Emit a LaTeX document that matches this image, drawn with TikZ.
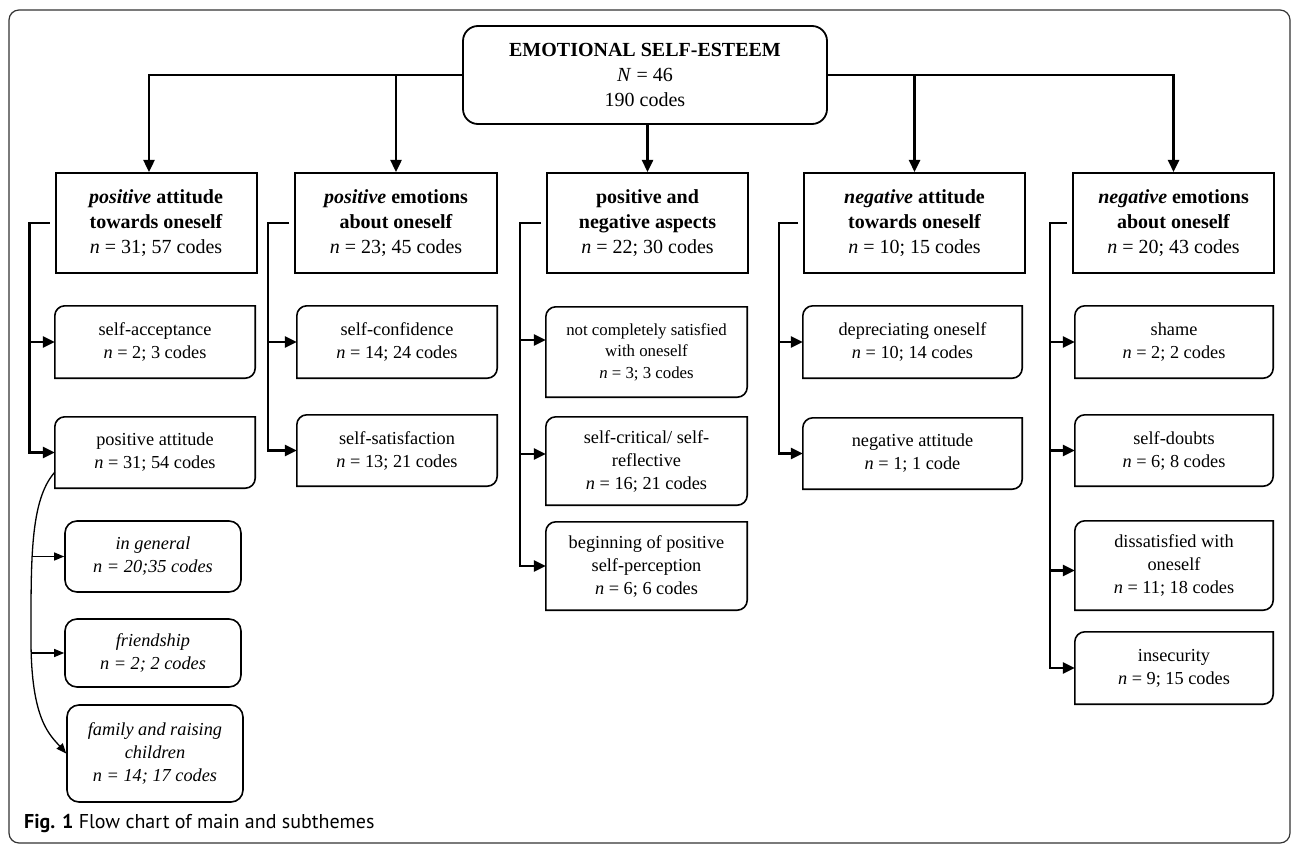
\documentclass[tikz,border=0pt]{standalone}
\usepackage{fontspec}
\setmainfont{Liberation Serif}
\newfontfamily\capfont{PT Sans}
\usetikzlibrary{arrows.meta}

\tikzset{
    root/.style={draw, line width=1.8pt, rounded corners=15pt, minimum width=364pt,
        minimum height=98pt, inner sep=0pt, align=center, font=\fontsize{20}{25}\selectfont},
    theme/.style={draw, line width=2pt, minimum width=201pt, minimum height=100pt,
        inner sep=0pt, align=center, font=\bfseries\fontsize{20}{25}\selectfont},
    subtheme/.style={minimum width=200pt, minimum height=72pt, inner sep=0pt,
        align=center, font=\fontsize{18.3}{23}\selectfont},
    facet/.style={subtheme, draw, line width=1.6pt, rounded corners=12pt,
        minimum width=176pt, font=\itshape\fontsize{18.3}{23}\selectfont},
    link/.style={line width=2.4pt, -{Triangle[length=12pt,width=11pt]}},
    thinlink/.style={line width=1.3pt, -{Triangle[length=10pt,width=8pt]}}
}

\begin{document}
\begin{tikzpicture}[x=1pt,y=-1pt]
    \useasboundingbox (0,0) rectangle (1292,845);
    % Outer frame
    \draw[black!80, line width=1.2pt, rounded corners=10pt] (9,10) rectangle (1290,843);

    % Main theme
    \node[root] (root) at (645,75)
        {\textbf{EMOTIONAL SELF-ESTEEM}\\\textit{N} = 46\\190 codes};

    % Themes
    \node[theme] (pat) at (156,223)
        {\textit{positive} attitude\\towards oneself\\{\mdseries\textit{n} = 31; 57 codes}};
    \node[theme, minimum width=202pt] (pem) at (396,223)
        {\textit{positive} emotions\\about oneself\\{\mdseries\textit{n} = 23; 45 codes}};
    \node[theme] (pna) at (647.5,223)
        {positive and\\negative aspects\\{\mdseries\textit{n} = 22; 30 codes}};
    \node[theme, minimum width=221pt] (nat) at (914.5,223)
        {\textit{negative} attitude\\towards oneself\\{\mdseries\textit{n} = 10; 15 codes}};
    \node[theme] (nem) at (1173.5,223)
        {\textit{negative} emotions\\about oneself\\{\mdseries\textit{n} = 20; 43 codes}};

    % Subthemes: positive attitude towards oneself
    \node[subtheme] (sa) at (155,342) {self-acceptance\\\textit{n} = 2; 3 codes};
    \node[subtheme, minimum height=71pt] (pa) at (155,452.5) {positive attitude\\\textit{n} = 31; 54 codes};
    \node[facet, minimum height=71pt] (ig) at (153,556.5) {in general\\n = 20;35 codes};
    \node[facet, minimum height=68pt] (fr) at (153,653) {friendship\\n = 2; 2 codes};
    \node[facet, minimum height=97pt] (fam) at (155,753.5) {family and raising\\children\\n = 14; 17 codes};

    % Subthemes: positive emotions about oneself
    \node[subtheme] (sc) at (397,342) {self-confidence\\\textit{n} = 14; 24 codes};
    \node[subtheme, minimum height=71pt] (ss) at (397,450.5) {self-satisfaction\\\textit{n} = 13; 21 codes};

    % Subthemes: positive and negative aspects
    \node[subtheme, minimum width=201pt, minimum height=90pt, font=\fontsize{16.8}{21.5}\selectfont] (ncs) at (646.5,352)
        {not completely satisfied\\with oneself\\\textit{n} = 3; 3 codes};
    \node[subtheme, minimum width=201pt, minimum height=88pt] (scr) at (646.5,461)
        {self-critical/ self-\\reflective\\\textit{n} = 16; 21 codes};
    \node[subtheme, minimum width=201pt, minimum height=88pt] (bpp) at (646.5,566)
        {beginning of positive\\self-perception\\\textit{n} = 6; 6 codes};

    % Subthemes: negative attitude towards oneself
    \node[subtheme, minimum width=219pt] (dep) at (912.5,342) {depreciating oneself\\\textit{n} = 10; 14 codes};
    \node[subtheme, minimum width=219pt, minimum height=71pt] (neg) at (912.5,453.5) {negative attitude\\\textit{n} = 1; 1 code};

    % Subthemes: negative emotions about oneself
    \node[subtheme, minimum width=198pt] (sh) at (1174,342) {shame\\\textit{n} = 2; 2 codes};
    \node[subtheme, minimum width=198pt, minimum height=71pt] (sd) at (1174,450.5) {self-doubts\\\textit{n} = 6; 8 codes};
    \node[subtheme, minimum width=198pt, minimum height=89pt] (dis) at (1174,565.5)
        {dissatisfied with\\oneself\\\textit{n} = 11; 18 codes};
    \node[subtheme, minimum width=198pt] (ins) at (1174,668) {insecurity\\\textit{n} = 9; 15 codes};

    % Borders of the subtheme boxes (two rounded corners)
    \foreach \b in {sa,pa,sc,ss,ncs,scr,bpp,dep,neg,sh,sd,dis,ins}
        \draw[line width=1.6pt] (\b.north east) -- ([yshift=10pt]\b.south east)
            arc[start angle=0, end angle=-90, radius=10pt] -- (\b.south west)
            -- ([yshift=-10pt]\b.north west) arc[start angle=180, end angle=90, radius=10pt] -- cycle;

    % From the main theme to the themes
    \draw[link] (root.west) -| ([xshift=-7pt]pat.north);
    \draw[link] (root.east) -| (nem.north);
    \draw[link] (pna.north |- root.south) -- (pna.north);
    \draw[link] (pem.north |- root.west) -- (pem.north);
    \draw[link] (nat.north |- root.east) -- (nat.north);

    % Brackets to the subthemes
    \coordinate (k1) at ([xshift=-25pt]pat.west);
    \coordinate (k2) at ([xshift=-26pt]pem.west);
    \coordinate (k3) at ([xshift=-26pt]pna.west);
    \coordinate (k4) at ([xshift=-24pt]nat.west);
    \coordinate (k5) at ([xshift=-22pt]nem.west);
    \coordinate (ncsin) at ([yshift=12pt]ncs.west);
    \coordinate (scrin) at ([yshift=7pt]scr.west);
    \coordinate (disin) at ([yshift=-5pt]dis.west);

    \draw[link] ([xshift=-5pt]pat.west) -- (k1) |- (pa.west);
    \draw[link] (k1 |- sa.west) -- (sa.west);

    \draw[link] ([xshift=-5pt]pem.west) -- (k2) |- (ss.west);
    \draw[link] (k2 |- sc.west) -- (sc.west);

    \draw[link] ([xshift=-5pt]pna.west) -- (k3) |- (bpp.west);
    \draw[link] (k3 |- ncsin) -- (ncsin);
    \draw[link] (k3 |- scrin) -- (scrin);

    \draw[link] ([xshift=-5pt]nat.west) -- (k4) |- (neg.west);
    \draw[link] (k4 |- dep.west) -- (dep.west);

    \draw[link] ([xshift=-5pt]nem.west) -- (k5) |- (ins.west);
    \draw[link] (k5 |- sh.west) -- (sh.west);
    \draw[link] (k5 |- sd.west) -- (sd.west);
    \draw[link] (k5 |- disin) -- (disin);

    % Curved branch under positive attitude
    \coordinate (pafoot) at ([yshift=16pt]pa.south west);
    \draw[thinlink] (pafoot) .. controls (30,500) and (31,560) .. (31,640)
        .. controls (31,720) and (50,735) .. (fam.west);
    \draw[thinlink] ([xshift=-32pt]ig.west) -- (ig.west);
    \draw[thinlink] ([xshift=-33pt]fr.west) -- (fr.west);

    % Caption
    \node[anchor=base west, inner sep=0pt, font=\capfont\fontsize{20}{24}\selectfont] (caption) at (24,828)
        {\textbf{Fig. 1} Flow chart of main and subthemes};
\end{tikzpicture}
\end{document}
